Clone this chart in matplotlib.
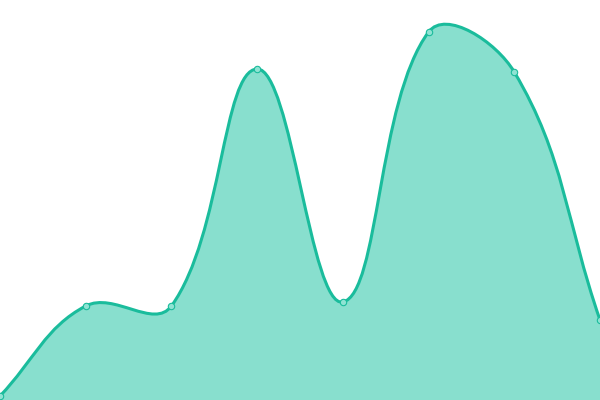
import numpy as np
import matplotlib
matplotlib.use("Agg")
import matplotlib.pyplot as plt
from matplotlib.path import Path
from matplotlib.patches import PathPatch

labels = ["A", "B", "C", "D", "E", "F", "G", "H"]
values = [4, 94, 94, 331, 98, 368, 328, 80]

LINE = "#1abc9c"
FILL = "#88dfce"
TENSION = 0.4

fig = plt.figure(figsize=(6, 4), dpi=100)
ax = fig.add_axes([0, 0, 1, 1])
x = np.arange(len(values), dtype=float)
y = np.array(values, dtype=float)
ax.set_xlim(0, len(values) - 1)
ax.set_ylim(0, 400)
ax.axis("off")

# Chart.js-style spline computed in display space
pts = ax.transData.transform(np.column_stack([x, y]))
n = len(pts)
verts = [pts[0]]
codes = [Path.MOVETO]
cp_prev = [None] * n
cp_next = [None] * n
for i in range(n):
    p = pts[i]
    pr = pts[i - 1] if i > 0 else p
    nx = pts[i + 1] if i < n - 1 else p
    d01 = np.hypot(*(p - pr))
    d12 = np.hypot(*(nx - p))
    tot = d01 + d12
    s01 = d01 / tot if tot else 0
    s12 = d12 / tot if tot else 0
    fa = TENSION * s01
    fb = TENSION * s12
    cp_prev[i] = p - fa * (nx - pr)
    cp_next[i] = p + fb * (nx - pr)
for i in range(1, n):
    verts += [cp_next[i - 1], cp_prev[i], pts[i]]
    codes += [Path.CURVE4] * 3
verts = np.array(verts)
inv = ax.transData.inverted()
dverts = inv.transform(verts)

line_path = Path(dverts, codes)
fill_verts = np.vstack([dverts, [[x[-1], 0], [x[0], 0], dverts[0]]])
fill_codes = codes + [Path.LINETO, Path.LINETO, Path.CLOSEPOLY]
ax.add_patch(PathPatch(Path(fill_verts, fill_codes), facecolor=FILL, edgecolor="none", zorder=1))
ax.add_patch(PathPatch(line_path, facecolor="none", edgecolor=LINE, linewidth=2.2, zorder=2))
ax.plot(x, y, linestyle="none", marker="o", markersize=4.6, markerfacecolor="#8fe3d3",
        markeredgecolor=LINE, markeredgewidth=0.8, zorder=3)

fig.savefig("out.png", dpi=100)
